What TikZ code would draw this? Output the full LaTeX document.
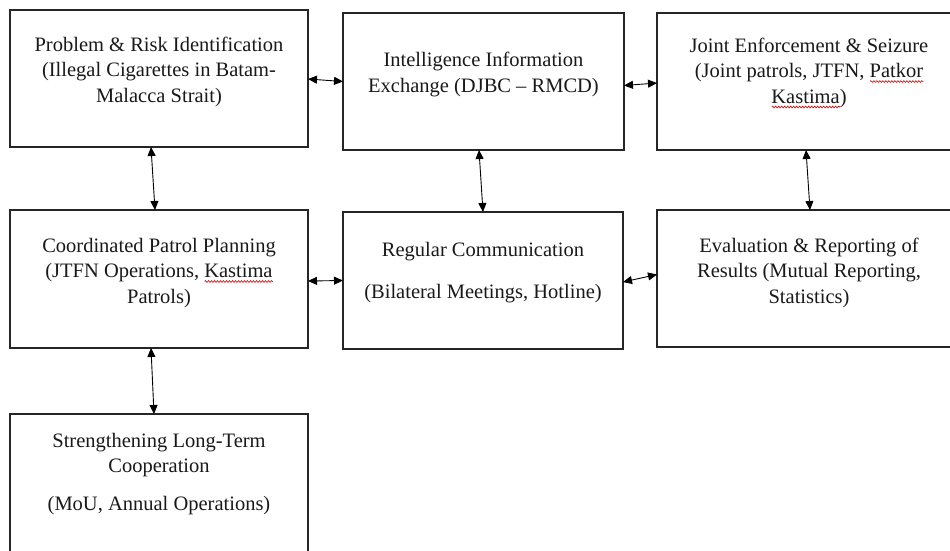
\documentclass[tikz,border=0pt]{standalone}
\usepackage{fontspec}
\setmainfont{Liberation Serif}
\usetikzlibrary{arrows.meta,decorations.pathmorphing}
\newlength\wvlen
\newcommand\redwave[1]{\settowidth\wvlen{#1}\rlap{\raisebox{-4pt}[0pt][0pt]{\tikz[x=1pt,y=1pt,baseline=0pt]\draw[red!85!black,line width=0.6pt,decorate,decoration={snake,amplitude=0.9pt,segment length=3pt}] (0,0) -- (\wvlen,0);}}#1}
\newcommand\ml[1]{\begin{tabular}[t]{@{}c@{}}#1\end{tabular}}
\tikzset{
  box/.style={draw=black!85, line width=1.2pt, rectangle, outer sep=0pt, inner sep=0pt},
  txt/.style={anchor=base, inner sep=0pt, outer sep=0pt, text=black!90,
    font=\fontsize{20.5}{25.5}\selectfont},
  dbl/.style={{Triangle[length=9pt,width=8pt]}-{Triangle[length=9pt,width=8pt]}, line width=0.9pt, draw=black}
}
\begin{document}
\begin{tikzpicture}[x=1pt,y=-1pt]
\clip (0,0) rectangle (950,550);
\fill[white] (0,0) rectangle (950,550);
% boxes
\node[box, minimum width=298pt, minimum height=137pt] (A) at (159,78.5) {};
\node[box, minimum width=281pt, minimum height=137pt] (B) at (483.5,81.5) {};
\node[box, minimum width=304pt, minimum height=137pt] (C) at (809,81.5) {};
\node[box, minimum width=298pt, minimum height=138pt] (D) at (159,279) {};
\node[box, minimum width=280pt, minimum height=137pt] (E) at (483,280.5) {};
\node[box, minimum width=304pt, minimum height=137pt] (F) at (809,278.5) {};
\node[box, minimum width=298pt, minimum height=138pt] (G) at (159,483) {};
% texts
\node[txt] (At) at (159,51) {\ml{Problem \& Risk Identification\\(Illegal Cigarettes in Batam-\\Malacca Strait)}};
\node[txt] (Bt) at (483.5,66) {\ml{Intelligence Information\\[1pt]Exchange (DJBC – RMCD)}};
\node[txt] (Ct) at (809,52) {\ml{Joint Enforcement \& Seizure\\(Joint patrols, JTFN, \redwave{Patkor}\\\redwave{Kastima})}};
\node[txt] (Dt) at (159,252) {\ml{Coordinated Patrol Planning\\(JTFN Operations, \redwave{Kastima}\\Patrols)}};
\node[txt] (Et) at (483,256) {\ml{Regular Communication\\[16.5pt](Bilateral Meetings, Hotline)}};
\node[txt] (Ft) at (809,252) {\ml{Evaluation \& Reporting of\\Results (Mutual Reporting,\\Statistics)}};
\node[txt] (Gt) at (159,447) {\ml{Strengthening Long-Term\\Cooperation\\[12.5pt](MoU, Annual Operations)}};
% connectors
\draw[dbl] ([yshift=-0.5pt]A.east) -- (B.west);
\draw[dbl] ([yshift=-4pt]B.east) -- ([yshift=-1.5pt]C.west);
\draw[dbl] ([yshift=-2pt]D.east) -- (E.west);
\draw[dbl] ([yshift=-1.5pt]E.east) -- ([yshift=4pt]F.west);
\draw[dbl] ([xshift=-8pt]A.south) -- ([xshift=-4pt]D.north);
\draw[dbl] ([xshift=-4.5pt]B.south) -- (E.north);
\draw[dbl] ([xshift=-3pt]C.south) -- ([xshift=1pt]F.north);
\draw[dbl] ([xshift=-8pt]D.south) -- ([xshift=-5pt]G.north);
\end{tikzpicture}
\end{document}
